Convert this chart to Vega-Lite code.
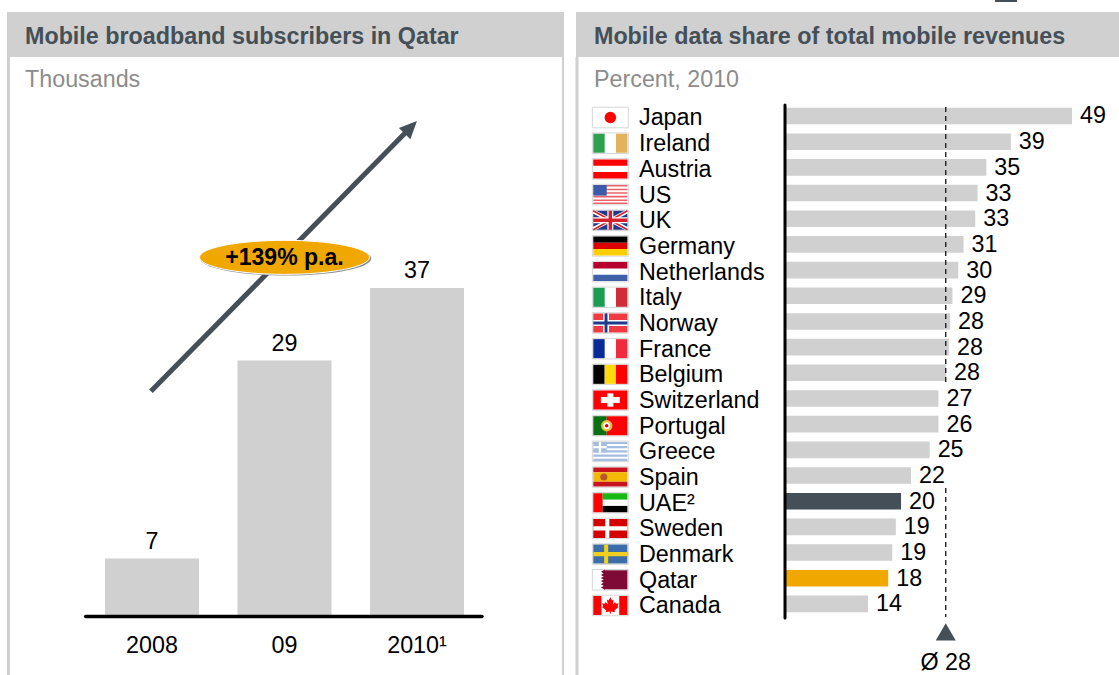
{
"$schema":"https://vega.github.io/schema/vega-lite/v6.json",
"background":"white",
"padding":{"left":6,"top":0,"right":0,"bottom":0},
"spacing":10,
"config":{"view":{"stroke":null},"font":"Liberation Sans","axis":{"disable":true},"legend":{"disable":true},
"text":{"font":"Liberation Sans"}},
"datasets":{
"subs":[{"year":2008,"label":"2008","value":6.4,"text":"7"},{"year":2009,"label":"09","value":28.8,"text":"29"},{"year":2010,"label":"2010¹","value":37,"text":"37"}],
"share":[
{"rank":1,"country":"Japan","share":48.97,"text":"49","paint":"bar"},
{"rank":2,"country":"Ireland","share":38.5,"text":"39","paint":"bar"},
{"rank":3,"country":"Austria","share":34.3,"text":"35","paint":"bar"},
{"rank":4,"country":"US","share":32.8,"text":"33","paint":"bar"},
{"rank":5,"country":"UK","share":32.4,"text":"33","paint":"bar"},
{"rank":6,"country":"Germany","share":30.4,"text":"31","paint":"bar"},
{"rank":7,"country":"Netherlands","share":29.5,"text":"30","paint":"bar"},
{"rank":8,"country":"Italy","share":28.5,"text":"29","paint":"bar"},
{"rank":9,"country":"Norway","share":28.1,"text":"28","paint":"bar"},
{"rank":10,"country":"France","share":27.9,"text":"28","paint":"bar"},
{"rank":11,"country":"Belgium","share":27.4,"text":"28","paint":"bar"},
{"rank":12,"country":"Switzerland","share":26.1,"text":"27","paint":"bar"},
{"rank":13,"country":"Portugal","share":26.1,"text":"26","paint":"bar"},
{"rank":14,"country":"Greece","share":24.6,"text":"25","paint":"bar"},
{"rank":15,"country":"Spain","share":21.4,"text":"22","paint":"bar"},
{"rank":16,"country":"UAE²","share":19.7,"text":"20","paint":"slate"},
{"rank":17,"country":"Sweden","share":18.8,"text":"19","paint":"bar"},
{"rank":18,"country":"Denmark","share":18.2,"text":"19","paint":"bar"},
{"rank":19,"country":"Qatar","share":17.5,"text":"18","paint":"amber"},
{"rank":20,"country":"Canada","share":14.04,"text":"14","paint":"bar"}],
"frames":[{"y0":0.66,"y1":1.46},{"y0":1.66,"y1":2.46},{"y0":2.66,"y1":3.46},{"y0":3.66,"y1":4.46},{"y0":4.66,"y1":5.46},{"y0":5.66,"y1":6.46},{"y0":6.66,"y1":7.46},{"y0":7.66,"y1":8.46},{"y0":8.66,"y1":9.46},{"y0":9.66,"y1":10.46},{"y0":10.66,"y1":11.46},{"y0":11.66,"y1":12.46},{"y0":12.66,"y1":13.46},{"y0":13.66,"y1":14.46},{"y0":14.66,"y1":15.46},{"y0":15.66,"y1":16.46},{"y0":16.66,"y1":17.46},{"y0":17.66,"y1":18.46},{"y0":18.66,"y1":19.46},{"y0":19.66,"y1":20.46}],
"flagRects":[
{"x0":-33,"x1":-31.05,"y0":1.69,"y1":2.43,"paint":"irish"},
{"x0":-29.11,"x1":-27.16,"y0":1.69,"y1":2.43,"paint":"sand"},
{"x0":-33,"x1":-27.16,"y0":2.69,"y1":2.937,"paint":"red"},
{"x0":-33,"x1":-27.16,"y0":3.183,"y1":3.43,"paint":"red"},
{"x0":-33,"x1":-27.16,"y0":3.69,"y1":3.75,"paint":"pink"},
{"x0":-33,"x1":-27.16,"y0":3.83,"y1":3.89,"paint":"pink"},
{"x0":-33,"x1":-27.16,"y0":3.97,"y1":4.03,"paint":"pink"},
{"x0":-33,"x1":-27.16,"y0":4.11,"y1":4.17,"paint":"pink"},
{"x0":-33,"x1":-27.16,"y0":4.25,"y1":4.31,"paint":"pink"},
{"x0":-33,"x1":-27.16,"y0":4.37,"y1":4.43,"paint":"pink"},
{"x0":-33,"x1":-30.7,"y0":3.69,"y1":4.1,"paint":"canton"},
{"x0":-33,"x1":-27.16,"y0":4.69,"y1":5.43,"paint":"navy"},
{"x0":-33,"x1":-27.16,"y0":5.69,"y1":5.937,"paint":"black"},
{"x0":-33,"x1":-27.16,"y0":5.937,"y1":6.183,"paint":"dered"},
{"x0":-33,"x1":-27.16,"y0":6.183,"y1":6.43,"paint":"degold"},
{"x0":-33,"x1":-27.16,"y0":6.69,"y1":6.937,"paint":"nlred"},
{"x0":-33,"x1":-27.16,"y0":7.183,"y1":7.43,"paint":"nlblue"},
{"x0":-33,"x1":-31.05,"y0":7.69,"y1":8.43,"paint":"itgreen"},
{"x0":-29.11,"x1":-27.16,"y0":7.69,"y1":8.43,"paint":"itred"},
{"x0":-33,"x1":-27.16,"y0":8.69,"y1":9.43,"paint":"nored"},
{"x0":-33,"x1":-27.16,"y0":8.94,"y1":9.18,"paint":"white"},
{"x0":-31.32,"x1":-30.32,"y0":8.69,"y1":9.43,"paint":"white"},
{"x0":-33,"x1":-27.16,"y0":9,"y1":9.12,"paint":"navy"},
{"x0":-31.07,"x1":-30.57,"y0":8.69,"y1":9.43,"paint":"navy"},
{"x0":-33,"x1":-31.05,"y0":9.69,"y1":10.43,"paint":"frblue"},
{"x0":-29.11,"x1":-27.16,"y0":9.69,"y1":10.43,"paint":"frred"},
{"x0":-33,"x1":-31.05,"y0":10.69,"y1":11.43,"paint":"black"},
{"x0":-31.05,"x1":-29.11,"y0":10.69,"y1":11.43,"paint":"begold"},
{"x0":-29.11,"x1":-27.16,"y0":10.69,"y1":11.43,"paint":"red"},
{"x0":-33,"x1":-27.16,"y0":11.69,"y1":12.43,"paint":"red"},
{"x0":-31.7,"x1":-28.46,"y0":11.945,"y1":12.175,"paint":"white"},
{"x0":-30.6,"x1":-29.56,"y0":11.8,"y1":12.32,"paint":"white"},
{"x0":-33,"x1":-30.7,"y0":12.69,"y1":13.43,"paint":"ptgreen"},
{"x0":-30.7,"x1":-27.16,"y0":12.69,"y1":13.43,"paint":"red"},
{"x0":-33,"x1":-27.16,"y0":13.69,"y1":13.77,"paint":"greek"},
{"x0":-33,"x1":-27.16,"y0":13.85,"y1":13.94,"paint":"greek"},
{"x0":-33,"x1":-27.16,"y0":14.02,"y1":14.1,"paint":"greek"},
{"x0":-33,"x1":-27.16,"y0":14.18,"y1":14.27,"paint":"greek"},
{"x0":-33,"x1":-27.16,"y0":14.35,"y1":14.43,"paint":"greek"},
{"x0":-33,"x1":-30.7,"y0":13.69,"y1":14.1,"paint":"greek"},
{"x0":-33,"x1":-30.7,"y0":13.85,"y1":13.94,"paint":"white"},
{"x0":-32.05,"x1":-31.65,"y0":13.69,"y1":14.1,"paint":"white"},
{"x0":-33,"x1":-27.16,"y0":14.69,"y1":14.875,"paint":"esred"},
{"x0":-33,"x1":-27.16,"y0":14.875,"y1":15.245,"paint":"esgold"},
{"x0":-33,"x1":-27.16,"y0":15.245,"y1":15.43,"paint":"esred"},
{"x0":-33,"x1":-31.4,"y0":15.69,"y1":16.43,"paint":"red"},
{"x0":-31.4,"x1":-27.16,"y0":15.69,"y1":15.937,"paint":"uaegreen"},
{"x0":-31.4,"x1":-27.16,"y0":16.183,"y1":16.43,"paint":"black"},
{"x0":-33,"x1":-27.16,"y0":16.69,"y1":17.43,"paint":"dkred"},
{"x0":-33,"x1":-27.16,"y0":16.98,"y1":17.14,"paint":"white"},
{"x0":-30.95,"x1":-30.25,"y0":16.69,"y1":17.43,"paint":"white"},
{"x0":-33,"x1":-27.16,"y0":17.69,"y1":18.43,"paint":"seblue"},
{"x0":-33,"x1":-27.16,"y0":17.98,"y1":18.14,"paint":"segold"},
{"x0":-31.15,"x1":-30.45,"y0":17.69,"y1":18.43,"paint":"segold"},
{"x0":-31.2,"x1":-27.16,"y0":18.69,"y1":19.43,"paint":"maroon"},
{"x0":-33,"x1":-31.6,"y0":19.69,"y1":20.43,"paint":"red"},
{"x0":-28.56,"x1":-27.16,"y0":19.69,"y1":20.43,"paint":"red"}],
"flagLines":[
{"x0":-33,"x1":-27.16,"y0":4.72,"y1":5.4,"w":4,"paint":"white"},
{"x0":-33,"x1":-27.16,"y0":5.4,"y1":4.72,"w":4,"paint":"white"},
{"x0":-33,"x1":-27.16,"y0":4.69,"y1":5.43,"w":1.5,"paint":"ukred"},
{"x0":-33,"x1":-27.16,"y0":5.43,"y1":4.69,"w":1.5,"paint":"ukred"},
{"x0":-33,"x1":-27.16,"y0":5.06,"y1":5.06,"w":6,"paint":"white"},
{"x0":-30.08,"x1":-30.08,"y0":4.69,"y1":5.43,"w":6,"paint":"white"},
{"x0":-33,"x1":-27.16,"y0":5.06,"y1":5.06,"w":3.5,"paint":"ukred"},
{"x0":-30.08,"x1":-30.08,"y0":4.69,"y1":5.43,"w":3.5,"paint":"ukred"}],
"flagGlyphs":[
{"x":-30.08,"y":1.06,"paint":"red","glyph":"circle","dot":132},
{"x":-30.7,"y":13.06,"paint":"ptgold","glyph":"circle","dot":130},
{"x":-30.7,"y":13.06,"paint":"white","glyph":"circle","dot":45},
{"x":-30.7,"y":13.06,"paint":"dkred","glyph":"circle","dot":12},
{"x":-31.2,"y":15.06,"paint":"esbrown","glyph":"circle","dot":50},
{"x":-31.35,"y":18.75,"paint":"maroon","glyph":"triangle-left","dot":22},
{"x":-31.35,"y":18.87,"paint":"maroon","glyph":"triangle-left","dot":22},
{"x":-31.35,"y":18.99,"paint":"maroon","glyph":"triangle-left","dot":22},
{"x":-31.35,"y":19.11,"paint":"maroon","glyph":"triangle-left","dot":22},
{"x":-31.35,"y":19.23,"paint":"maroon","glyph":"triangle-left","dot":22},
{"x":-31.35,"y":19.36,"paint":"maroon","glyph":"triangle-left","dot":22},
{"x":-30.08,"y":20.06,"paint":"red","glyph":"M0,-1 L.22,-.6 L.42,-.72 L.3,-.12 L.58,-.42 L.68,-.2 L1,-.27 L.88,.1 L1,.2 L.5,.62 L.58,.82 L.06,.75 L.06,1 L-.06,1 L-.06,.75 L-.58,.82 L-.5,.62 L-1,.2 L-.88,.1 L-1,-.27 L-.68,-.2 L-.58,-.42 L-.3,-.12 L-.42,-.72 L-.22,-.6 Z","dot":270}]
},
"hconcat":[
{"width":557,"height":675,
"layer":[
{"data":{"values":[{"x0":2006.9057,"x1":2011.1094,"y0":63.12,"y1":68.2}]},"mark":{"type":"rect","color":"#d0d0d0"},
"encoding":{"x":{"field":"x0","type":"quantitative","scale":{"domain":[2006.9057,2011.1094],"nice":false,"zero":false,"padding":0}},"x2":{"field":"x1"},"y":{"field":"y0","type":"quantitative","scale":{"domain":[-6.787,69.57],"nice":false,"zero":false,"padding":0}},"y2":{"field":"y1"}}},
{"data":{"values":[{"x":2007.0415,"y":65.61,"text":"Mobile broadband subscribers in Qatar"}]},"mark":{"type":"text","fontSize":23.3,"fontWeight":"bold","color":"#444f58","align":"left","baseline":"middle","dy":1.5},
"encoding":{"x":{"field":"x","type":"quantitative","scale":{"domain":[2006.9057,2011.1094],"nice":false,"zero":false,"padding":0}},"y":{"field":"y","type":"quantitative","scale":{"domain":[-6.787,69.57],"nice":false,"zero":false,"padding":0}},"text":{"field":"text"}}},
{"data":{"values":[{"x":2007.0415,"y":60.63,"text":"Thousands"}]},"mark":{"type":"text","fontSize":23.3,"color":"#8c8c8c","align":"left","baseline":"middle","dy":1},
"encoding":{"x":{"field":"x","type":"quantitative","scale":{"domain":[2006.9057,2011.1094],"nice":false,"zero":false,"padding":0}},"y":{"field":"y","type":"quantitative","scale":{"domain":[-6.787,69.57],"nice":false,"zero":false,"padding":0}},"text":{"field":"text"}}},
{"data":{"values":[{"x":2006.917,"y0":63.12,"y1":-6.787,"w":3},{"x":2011.102,"y0":63.12,"y1":-6.787,"w":2}]},"mark":{"type":"rule","color":"#d0d0d0"},
"encoding":{"x":{"field":"x","type":"quantitative","scale":{"domain":[2006.9057,2011.1094],"nice":false,"zero":false,"padding":0}},"y":{"field":"y0","type":"quantitative","scale":{"domain":[-6.787,69.57],"nice":false,"zero":false,"padding":0}},"y2":{"field":"y1"},"strokeWidth":{"field":"w","type":"quantitative","scale":null}}},
{"data":{"name":"subs"},"mark":{"type":"bar","size":94,"orient":"vertical","color":"#d0d0d0"},
"encoding":{"x":{"field":"year","type":"quantitative","scale":{"domain":[2006.9057,2011.1094],"nice":false,"zero":false,"padding":0}},"y":{"field":"value","type":"quantitative","scale":{"domain":[-6.787,69.57],"nice":false,"zero":false,"padding":0}}}},
{"data":{"name":"subs"},"mark":{"type":"text","fontSize":23.3,"color":"#000000","dy":-16.5,"baseline":"middle"},
"encoding":{"x":{"field":"year","type":"quantitative","scale":{"domain":[2006.9057,2011.1094],"nice":false,"zero":false,"padding":0}},"y":{"field":"value","type":"quantitative","scale":{"domain":[-6.787,69.57],"nice":false,"zero":false,"padding":0}},"text":{"field":"text"}}},
{"data":{"name":"subs"},"mark":{"type":"text","fontSize":23.3,"color":"#000000","baseline":"middle","dy":1},
"encoding":{"x":{"field":"year","type":"quantitative","scale":{"domain":[2006.9057,2011.1094],"nice":false,"zero":false,"padding":0}},"y":{"datum":-3.39,"type":"quantitative","scale":{"domain":[-6.787,69.57],"nice":false,"zero":false,"padding":0}},"text":{"field":"label"}}},
{"data":{"values":[{"x0":2007.5,"x1":2010.49,"y":-0.17}]},"mark":{"type":"rule","color":"#000000","strokeWidth":3.6,"strokeCap":"round"},
"encoding":{"x":{"field":"x0","type":"quantitative","scale":{"domain":[2006.9057,2011.1094],"nice":false,"zero":false,"padding":0}},"x2":{"field":"x1"},"y":{"field":"y","type":"quantitative","scale":{"domain":[-6.787,69.57],"nice":false,"zero":false,"padding":0}}}},
{"data":{"values":[{"x":2007.992,"y":25.3},{"x":2009.966,"y":55.36}]},"mark":{"type":"line","color":"#444f58","strokeWidth":5},
"encoding":{"x":{"field":"x","type":"quantitative","scale":{"domain":[2006.9057,2011.1094],"nice":false,"zero":false,"padding":0}},"y":{"field":"y","type":"quantitative","scale":{"domain":[-6.787,69.57],"nice":false,"zero":false,"padding":0}}}},
{"data":{"values":[{"x":2009.966,"y":55.36}]},"mark":{"type":"point","filled":true,"opacity":1,"color":"#444f58","shape":"M0,-0.4 L0.5,0.7 L-0.5,0.7 Z","size":1024,"angle":44.5},
"encoding":{"x":{"field":"x","type":"quantitative","scale":{"domain":[2006.9057,2011.1094],"nice":false,"zero":false,"padding":0}},"y":{"field":"y","type":"quantitative","scale":{"domain":[-6.787,69.57],"nice":false,"zero":false,"padding":0}}}},
{"data":{"values":[{"x":2009.01,"y":40.33}]},"mark":{"type":"point","filled":true,"opacity":1,"color":"#8f8f8f","shape":"M-1,0 A1,0.2 0 1 1 1,0 A1,0.2 0 1 1 -1,0 Z","size":29200},
"encoding":{"x":{"field":"x","type":"quantitative","scale":{"domain":[2006.9057,2011.1094],"nice":false,"zero":false,"padding":0}},"y":{"field":"y","type":"quantitative","scale":{"domain":[-6.787,69.57],"nice":false,"zero":false,"padding":0}}}},
{"data":{"values":[{"x":2009,"y":40.46}]},"mark":{"type":"point","filled":true,"opacity":1,"color":"#f0a800","stroke":"#ffffff","strokeWidth":1,"shape":"M-1,0 A1,0.2 0 1 1 1,0 A1,0.2 0 1 1 -1,0 Z","size":28900},
"encoding":{"x":{"field":"x","type":"quantitative","scale":{"domain":[2006.9057,2011.1094],"nice":false,"zero":false,"padding":0}},"y":{"field":"y","type":"quantitative","scale":{"domain":[-6.787,69.57],"nice":false,"zero":false,"padding":0}}}},
{"data":{"values":[{"x":2009,"y":40.46,"text":"+139% p.a."}]},"mark":{"type":"text","fontSize":23,"fontWeight":"bold","color":"#000000","baseline":"middle","dy":1},
"encoding":{"x":{"field":"x","type":"quantitative","scale":{"domain":[2006.9057,2011.1094],"nice":false,"zero":false,"padding":0}},"y":{"field":"y","type":"quantitative","scale":{"domain":[-6.787,69.57],"nice":false,"zero":false,"padding":0}},"text":{"field":"text"}}}
]},
{"width":543,"height":675,
"layer":[
{"data":{"values":[{"x0":-35.96,"x1":57.02,"y0":-3.05,"y1":-1.2975}]},"mark":{"type":"rect","color":"#d0d0d0"},
"encoding":{"x":{"field":"x0","type":"quantitative","scale":{"domain":[-35.96,57.02],"nice":false,"zero":false,"padding":0}},"x2":{"field":"x1"},"y":{"field":"y0","type":"quantitative","scale":{"domain":[-3.517,22.768],"nice":false,"zero":false,"reverse":true,"padding":0}},"y2":{"field":"y1"}}},
{"data":{"values":[{"x":-32.88,"y":-2.154,"text":"Mobile data share of total mobile revenues"}]},"mark":{"type":"text","fontSize":23.3,"fontWeight":"bold","color":"#444f58","align":"left","baseline":"middle","dy":1.5},
"encoding":{"x":{"field":"x","type":"quantitative","scale":{"domain":[-35.96,57.02],"nice":false,"zero":false,"padding":0}},"y":{"field":"y","type":"quantitative","scale":{"domain":[-3.517,22.768],"nice":false,"zero":false,"reverse":true,"padding":0}},"text":{"field":"text"}}},
{"data":{"values":[{"x":-32.88,"y":-0.441,"text":"Percent, 2010"}]},"mark":{"type":"text","fontSize":23.3,"color":"#8c8c8c","align":"left","baseline":"middle","dy":1},
"encoding":{"x":{"field":"x","type":"quantitative","scale":{"domain":[-35.96,57.02],"nice":false,"zero":false,"padding":0}},"y":{"field":"y","type":"quantitative","scale":{"domain":[-3.517,22.768],"nice":false,"zero":false,"reverse":true,"padding":0}},"text":{"field":"text"}}},
{"data":{"values":[{"x0":35.79,"x1":39.55,"y0":-3.517,"y1":-3.44}]},"mark":{"type":"rect","color":"#444f58"},
"encoding":{"x":{"field":"x0","type":"quantitative","scale":{"domain":[-35.96,57.02],"nice":false,"zero":false,"padding":0}},"x2":{"field":"x1"},"y":{"field":"y0","type":"quantitative","scale":{"domain":[-3.517,22.768],"nice":false,"zero":false,"reverse":true,"padding":0}},"y2":{"field":"y1"}}},
{"data":{"values":[{"x":-35.79,"y0":-1.2975,"y1":22.768}]},"mark":{"type":"rule","color":"#d0d0d0","strokeWidth":3},
"encoding":{"x":{"field":"x","type":"quantitative","scale":{"domain":[-35.96,57.02],"nice":false,"zero":false,"padding":0}},"y":{"field":"y0","type":"quantitative","scale":{"domain":[-3.517,22.768],"nice":false,"zero":false,"reverse":true,"padding":0}},"y2":{"field":"y1"}}},
{"data":{"name":"frames"},"mark":{"type":"rect","color":"#ffffff","stroke":"#d6d6d6","strokeWidth":1},
"encoding":{"x":{"datum":-33.16,"type":"quantitative","scale":{"domain":[-35.96,57.02],"nice":false,"zero":false,"padding":0}},"x2":{"datum":-27},"y":{"field":"y0","type":"quantitative","scale":{"domain":[-3.517,22.768],"nice":false,"zero":false,"reverse":true,"padding":0}},"y2":{"field":"y1"}}},
{"data":{"name":"flagRects"},"mark":{"type":"rect"},
"encoding":{"x":{"field":"x0","type":"quantitative","scale":{"domain":[-35.96,57.02],"nice":false,"zero":false,"padding":0}},"x2":{"field":"x1"},"y":{"field":"y0","type":"quantitative","scale":{"domain":[-3.517,22.768],"nice":false,"zero":false,"reverse":true,"padding":0}},"y2":{"field":"y1"},
"color":{"field":"paint","type":"nominal","legend":null,"scale":{"domain":["bar","slate","amber","irish","sand","red","pink","canton","navy","black","dered","degold","nlred","nlblue","itgreen","itred","nored","white","frblue","frred","begold","ptgreen","greek","esred","esgold","uaegreen","dkred","seblue","segold","maroon","ukred","ptgold","esbrown"],"range":["#d0d0d0","#444f58","#f0a800","#2ca24f","#e2b35c","#ff0000","#f0606a","#3c5aa8","#1f3a8a","#000000","#dd0000","#ffce00","#b8002c","#3f5fa8","#1c9c50","#cf2e38","#ef3b41","#ffffff","#0a2a9a","#ef2b3d","#ffd90c","#0a6e12","#a3bde0","#c8141c","#f5b800","#18b818","#d40000","#3b6ea8","#f0cf20","#7e0a35","#d8202c","#e0c040","#b5582a"]}}}},
{"data":{"name":"flagLines"},"mark":{"type":"rule"},
"encoding":{"x":{"field":"x0","type":"quantitative","scale":{"domain":[-35.96,57.02],"nice":false,"zero":false,"padding":0}},"x2":{"field":"x1"},"y":{"field":"y0","type":"quantitative","scale":{"domain":[-3.517,22.768],"nice":false,"zero":false,"reverse":true,"padding":0}},"y2":{"field":"y1"},"strokeWidth":{"field":"w","type":"quantitative","scale":null},
"color":{"field":"paint","type":"nominal","legend":null,"scale":{"domain":["bar","slate","amber","irish","sand","red","pink","canton","navy","black","dered","degold","nlred","nlblue","itgreen","itred","nored","white","frblue","frred","begold","ptgreen","greek","esred","esgold","uaegreen","dkred","seblue","segold","maroon","ukred","ptgold","esbrown"],"range":["#d0d0d0","#444f58","#f0a800","#2ca24f","#e2b35c","#ff0000","#f0606a","#3c5aa8","#1f3a8a","#000000","#dd0000","#ffce00","#b8002c","#3f5fa8","#1c9c50","#cf2e38","#ef3b41","#ffffff","#0a2a9a","#ef2b3d","#ffd90c","#0a6e12","#a3bde0","#c8141c","#f5b800","#18b818","#d40000","#3b6ea8","#f0cf20","#7e0a35","#d8202c","#e0c040","#b5582a"]}}}},
{"data":{"name":"flagGlyphs"},"mark":{"type":"point","filled":true,"opacity":1,"strokeWidth":0},
"encoding":{"x":{"field":"x","type":"quantitative","scale":{"domain":[-35.96,57.02],"nice":false,"zero":false,"padding":0}},"y":{"field":"y","type":"quantitative","scale":{"domain":[-3.517,22.768],"nice":false,"zero":false,"reverse":true,"padding":0}},"shape":{"field":"glyph","type":"nominal","scale":null,"legend":null},"size":{"field":"dot","type":"quantitative","scale":null,"legend":null},
"color":{"field":"paint","type":"nominal","legend":null,"scale":{"domain":["bar","slate","amber","irish","sand","red","pink","canton","navy","black","dered","degold","nlred","nlblue","itgreen","itred","nored","white","frblue","frred","begold","ptgreen","greek","esred","esgold","uaegreen","dkred","seblue","segold","maroon","ukred","ptgold","esbrown"],"range":["#d0d0d0","#444f58","#f0a800","#2ca24f","#e2b35c","#ff0000","#f0606a","#3c5aa8","#1f3a8a","#000000","#dd0000","#ffce00","#b8002c","#3f5fa8","#1c9c50","#cf2e38","#ef3b41","#ffffff","#0a2a9a","#ef2b3d","#ffd90c","#0a6e12","#a3bde0","#c8141c","#f5b800","#18b818","#d40000","#3b6ea8","#f0cf20","#7e0a35","#d8202c","#e0c040","#b5582a"]}}}},
{"data":{"name":"share"},"mark":{"type":"bar","size":16.6,"orient":"horizontal"},
"encoding":{"x":{"field":"share","type":"quantitative","scale":{"domain":[-35.96,57.02],"nice":false,"zero":false,"padding":0}},"y":{"field":"rank","type":"quantitative","scale":{"domain":[-3.517,22.768],"nice":false,"zero":false,"reverse":true,"padding":0}},
"color":{"field":"paint","type":"nominal","legend":null,"scale":{"domain":["bar","slate","amber","irish","sand","red","pink","canton","navy","black","dered","degold","nlred","nlblue","itgreen","itred","nored","white","frblue","frred","begold","ptgreen","greek","esred","esgold","uaegreen","dkred","seblue","segold","maroon","ukred","ptgold","esbrown"],"range":["#d0d0d0","#444f58","#f0a800","#2ca24f","#e2b35c","#ff0000","#f0606a","#3c5aa8","#1f3a8a","#000000","#dd0000","#ffce00","#b8002c","#3f5fa8","#1c9c50","#cf2e38","#ef3b41","#ffffff","#0a2a9a","#ef2b3d","#ffd90c","#0a6e12","#a3bde0","#c8141c","#f5b800","#18b818","#d40000","#3b6ea8","#f0cf20","#7e0a35","#d8202c","#e0c040","#b5582a"]}}}},
{"data":{"values":[{"x":-0.17,"y0":0.57,"y1":20.55}]},"mark":{"type":"rule","color":"#000000","strokeWidth":3,"strokeCap":"round"},
"encoding":{"x":{"field":"x","type":"quantitative","scale":{"domain":[-35.96,57.02],"nice":false,"zero":false,"padding":0}},"y":{"field":"y0","type":"quantitative","scale":{"domain":[-3.517,22.768],"nice":false,"zero":false,"reverse":true,"padding":0}},"y2":{"field":"y1"}}},
{"data":{"values":[{"x":27.35,"y0":0.65,"y1":11.47},{"x":27.35,"y0":15.49,"y1":20.51}]},"mark":{"type":"rule","color":"#222222","strokeWidth":1.4,"strokeDash":[5,4]},
"encoding":{"x":{"field":"x","type":"quantitative","scale":{"domain":[-35.96,57.02],"nice":false,"zero":false,"padding":0}},"y":{"field":"y0","type":"quantitative","scale":{"domain":[-3.517,22.768],"nice":false,"zero":false,"reverse":true,"padding":0}},"y2":{"field":"y1"}}},
{"data":{"name":"share"},"mark":{"type":"text","fontSize":23.3,"color":"#000000","align":"left","baseline":"middle","dy":2.5},
"encoding":{"x":{"datum":-25.17,"type":"quantitative","scale":{"domain":[-35.96,57.02],"nice":false,"zero":false,"padding":0}},"y":{"field":"rank","type":"quantitative","scale":{"domain":[-3.517,22.768],"nice":false,"zero":false,"reverse":true,"padding":0}},"text":{"field":"country"}}},
{"data":{"name":"share"},"mark":{"type":"text","fontSize":23.3,"color":"#000000","align":"left","baseline":"middle","dx":8,"dy":0.5},
"encoding":{"x":{"field":"share","type":"quantitative","scale":{"domain":[-35.96,57.02],"nice":false,"zero":false,"padding":0}},"y":{"field":"rank","type":"quantitative","scale":{"domain":[-3.517,22.768],"nice":false,"zero":false,"reverse":true,"padding":0}},"text":{"field":"text"}}},
{"data":{"values":[{"x":27.35,"y":21.09}]},"mark":{"type":"point","filled":true,"opacity":1,"color":"#444f58","shape":"triangle-up","size":400},
"encoding":{"x":{"field":"x","type":"quantitative","scale":{"domain":[-35.96,57.02],"nice":false,"zero":false,"padding":0}},"y":{"field":"y","type":"quantitative","scale":{"domain":[-3.517,22.768],"nice":false,"zero":false,"reverse":true,"padding":0}}}},
{"data":{"values":[{"x":27.35,"y":22.26,"text":"Ø 28"}]},"mark":{"type":"text","fontSize":23.3,"color":"#000000","baseline":"middle","dy":1},
"encoding":{"x":{"field":"x","type":"quantitative","scale":{"domain":[-35.96,57.02],"nice":false,"zero":false,"padding":0}},"y":{"field":"y","type":"quantitative","scale":{"domain":[-3.517,22.768],"nice":false,"zero":false,"reverse":true,"padding":0}},"text":{"field":"text"}}}
]}
]}
